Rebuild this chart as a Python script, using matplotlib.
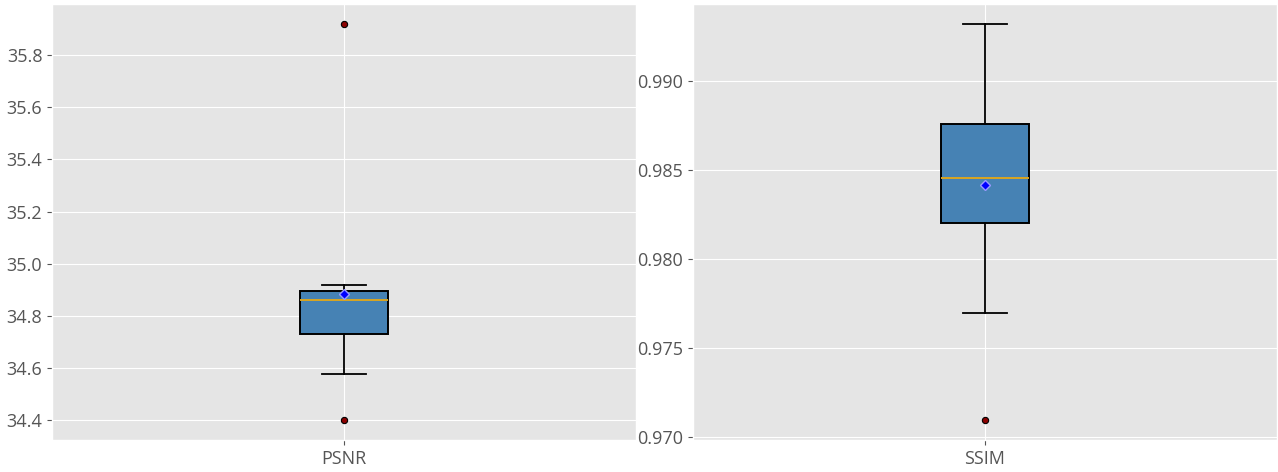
import matplotlib
matplotlib.use("Agg")
import matplotlib.pyplot as plt

plt.style.use("ggplot")
plt.rcParams['font.family'] = ['Open Sans', 'DejaVu Sans']

labels = ["PSNR", "SSIM"]
q1 = [34.732, 0.98205]
med = [34.860, 0.98456]
q3 = [34.894, 0.98761]
whislo = [34.578, 0.97698]
whishi = [34.917, 0.99324]
means = [34.883, 0.98419]
fliers = [[34.40, 35.92], [0.97095]]

fig = plt.figure(figsize=(12.78, 4.72), dpi=100)
fig.subplots_adjust(left=52/1278, right=1277/1278, top=1-4/472, bottom=1-440/472, wspace=0.096)
axes = fig.subplots(1, 2)

for i, ax in enumerate(axes):
    stats = [dict(label=labels[i], q1=q1[i], med=med[i], q3=q3[i],
                  whislo=whislo[i], whishi=whishi[i], mean=means[i],
                  fliers=fliers[i])]
    ax.bxp(stats, widths=0.15, patch_artist=True, showmeans=True,
           boxprops=dict(facecolor='#4682B4', edgecolor='black', linewidth=1.4),
           medianprops=dict(color='#DAA520', linewidth=1.4),
           whiskerprops=dict(color='black', linewidth=1.3),
           capprops=dict(color='black', linewidth=1.3),
           meanprops=dict(marker='D', markerfacecolor='blue', markeredgecolor='#9a9aff',
                          markersize=5, markeredgewidth=1),
           flierprops=dict(marker='o', markerfacecolor='#8B0000', markeredgecolor='black',
                           markersize=4.5, markeredgewidth=0.8))
    ax.tick_params(labelsize=13, colors='#555555')

axes[1].set_yticks([0.970, 0.975, 0.980, 0.985, 0.990])
axes[1].yaxis.set_major_formatter(matplotlib.ticker.FormatStrFormatter('%.3f'))

fig.savefig("out.png", dpi=100)
